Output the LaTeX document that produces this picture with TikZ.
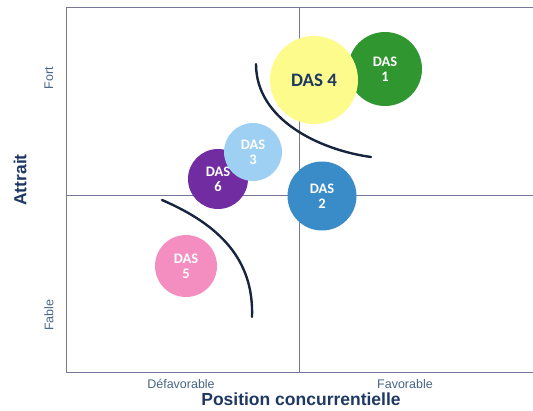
\documentclass[tikz,border=0pt]{standalone}
\usepackage{fontspec}
\setmainfont{Liberation Sans}
\newfontfamily\dasfont{Carlito}
\usepackage{tikz}
\usepackage{xcolor}

\definecolor{framegrey}{RGB}{118,118,150}
\definecolor{axisblue}{RGB}{70,100,135}
\definecolor{titleblue}{RGB}{31,56,100}
\definecolor{arcnavy}{RGB}{22,36,62}
\definecolor{dasyellow}{RGB}{253,251,140}
\definecolor{dasgreen}{RGB}{48,150,48}
\definecolor{daslightblue}{RGB}{158,208,244}
\definecolor{daspurple}{RGB}{112,44,160}
\definecolor{dasblue}{RGB}{58,140,200}
\definecolor{daspink}{RGB}{244,142,192}

\tikzset{
  das/.style={circle, inner sep=0pt, align=center, text=white,
    font=\dasfont\bfseries\fontsize{14.5}{15}\selectfont},
  axislabel/.style={text=axisblue, font=\fontsize{12.5}{14}\selectfont},
  axistitle/.style={text=titleblue, inner sep=1pt, font=\bfseries\fontsize{17.5}{19}\selectfont},
  split/.style={color=arcnavy, line width=2.4pt, line cap=round}
}

\begin{document}
\begin{tikzpicture}[x=1pt,y=1pt,yscale=-1]
\useasboundingbox (0,0) rectangle (533,410);

%Shape: Frame
\draw [color=framegrey, line width=1pt] (533,7) -- (66,7) -- (66,372) -- (533,372) ;
%Straight Lines
\draw [color=framegrey, line width=1pt] (299,7) -- (299,372) ;
\draw [color=framegrey, line width=1pt] (66,195) -- (533,195) ;

%Shape: Circles
\node (das1) [das, minimum size=74pt, fill=dasgreen] at (385,69) {DAS\\1};
\node (das4) [das, minimum size=88pt, fill=dasyellow, text=titleblue,
  font=\dasfont\bfseries\fontsize{19}{20}\selectfont] at (314,80) {DAS 4};
\node (das6) [das, minimum size=60pt, fill=daspurple] at (218,179) {DAS\\6};
\node (das3) [das, minimum size=58pt, fill=daslightblue] at (253,152) {DAS\\3};
\node (das2) [das, minimum size=69pt, fill=dasblue] at (322,196) {DAS\\2};
\node (das5) [das, minimum size=62pt, fill=daspink] at (186,266) {DAS\\5};

%Curves
\draw [split] (256,64) .. controls (256,120) and (320,150) .. (371,157) ;
\draw [split] (162,200) .. controls (220,225) and (254,260) .. (252,317) ;

% Text Node
\node (fort) [axislabel, rotate=90] at (49,78) {Fort};
% Text Node
\node (fable) [axislabel, rotate=90] at (49,315) {Fable};
% Text Node
\node (defav) [axislabel] at (181,384) {Défavorable};
% Text Node
\node (fav) [axislabel] at (405,384) {Favorable};
% Text Node
\node (attrait) [axistitle, rotate=90] at (20,180) {Attrait};
% Text Node
\node (position) [axistitle] at (301,399) {Position concurrentielle};

\end{tikzpicture}
\end{document}
